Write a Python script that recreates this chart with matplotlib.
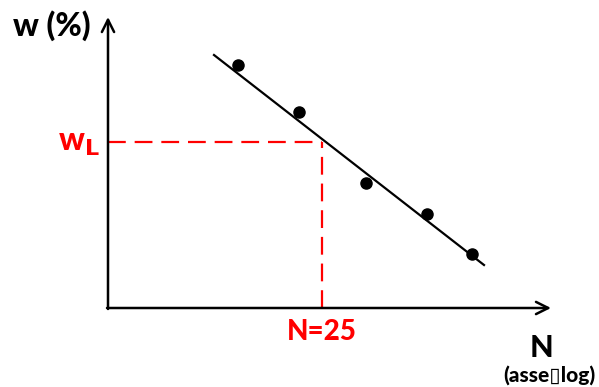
import matplotlib.pyplot as plt

# data (arbitrary units, origin at the axes corner)
pts_x = [130, 191, 258, 319, 364]
pts_y = [243, 196, 125, 94, 54]
fit_x = [106, 376]
fit_y = [253, 43]
n25_x = 214
wl_y = 166

font = ['Lato', 'DejaVu Sans']

fig = plt.figure(figsize=(5.99, 3.87), dpi=100)
ax = fig.add_axes([0, 0, 1, 1])
ax.set_xlim(-108, 491)
ax.set_ylim(-79, 308)
ax.axis('off')

# axes with arrows
ax.annotate('', xy=(0, 291), xytext=(0, -1),
            arrowprops=dict(arrowstyle='->', lw=1.8, color='black',
                            mutation_scale=22, shrinkA=0, shrinkB=0))
ax.annotate('', xy=(443, 0), xytext=(-1, 0),
            arrowprops=dict(arrowstyle='->', lw=1.8, color='black',
                            mutation_scale=22, shrinkA=0, shrinkB=0))

# red dashed guides
ax.plot([0, n25_x], [wl_y, wl_y], color='red', lw=1.6, ls=(0, (8, 4)))
ax.plot([n25_x, n25_x], [0, wl_y], color='red', lw=1.6, ls=(0, (8, 4)))

# fit line and points
ax.plot(fit_x, fit_y, color='black', lw=1.6)
ax.plot(pts_x, pts_y, 'o', color='black', markersize=8)

# labels
ax.text(-56, 282, 'w (%)', fontsize=23, fontweight='black', family=font,
        ha='center', va='center')
ax.text(-29, 164, r'w$_\mathbf{L}$', fontsize=23, fontweight='black', family=font,
        color='red', ha='center', va='center')
ax.text(n25_x, -24, 'N=25', fontsize=20, fontweight='black', family=font,
        color='red', ha='center', va='center')
ax.text(434, -40, 'N', fontsize=22, fontweight='black', family=font,
        ha='center', va='center')
ax.text(441, -67, '(asse\u25aflog)', fontsize=15, fontweight='black',
        family=font, ha='center', va='center')

fig.savefig('out.png', dpi=100)
